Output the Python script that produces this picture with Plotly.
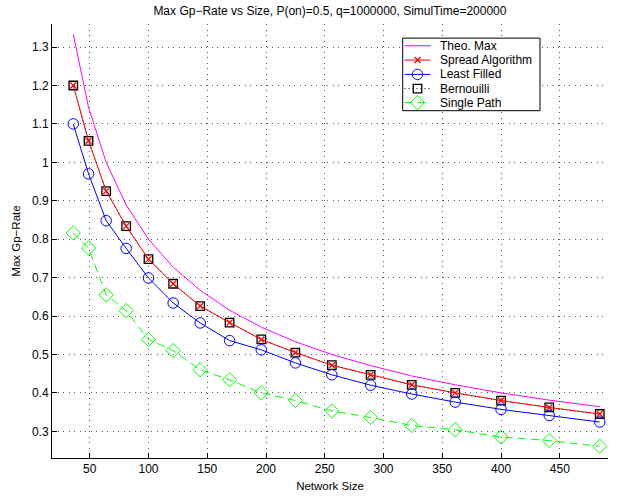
import plotly.graph_objects as go

# Network sizes (square grids) on the x axis
network_size = [36, 49, 64, 81, 100, 121, 144, 169, 196, 225, 256, 289, 324, 361, 400, 441, 484]

# Max Gp-Rate per strategy
theo_max = [1.333, 1.143, 1.000, 0.889, 0.800, 0.727, 0.667, 0.615, 0.571, 0.533,
            0.500, 0.471, 0.444, 0.421, 0.400, 0.381, 0.364]
spread_algorithm = [1.200, 1.056, 0.925, 0.834, 0.748, 0.684, 0.626, 0.583, 0.539, 0.505,
                    0.472, 0.447, 0.421, 0.400, 0.380, 0.362, 0.345]
least_filled = [1.100, 0.970, 0.848, 0.776, 0.699, 0.634, 0.582, 0.536, 0.512, 0.478,
                0.447, 0.420, 0.397, 0.376, 0.357, 0.341, 0.324]
bernouilli = [1.200, 1.056, 0.925, 0.834, 0.748, 0.684, 0.626, 0.583, 0.539, 0.505,
              0.472, 0.447, 0.421, 0.400, 0.380, 0.362, 0.345]
single_path = [0.816, 0.777, 0.655, 0.614, 0.539, 0.510, 0.460, 0.434, 0.400, 0.380,
               0.353, 0.336, 0.315, 0.304, 0.285, 0.276, 0.261]

series_names = ["Theo. Max", "Spread Algorithm", "Least Filled", "Bernouilli", "Single Path"]

x_ticks = [50, 100, 150, 200, 250, 300, 350, 400, 450]
y_ticks = [0.3, 0.4, 0.5, 0.6, 0.7, 0.8, 0.9, 1.0, 1.1, 1.2, 1.3]
y_tick_labels = ["0.3", "0.4", "0.5", "0.6", "0.7", "0.8", "0.9", "1", "1.1", "1.2", "1.3"]

FONT = "Liberation Sans, Arial, Helvetica, sans-serif"

# plot area in pixels
PLOT_L, PLOT_R, PLOT_T, PLOT_B = 52, 608, 24, 463
W, H = 619, 501

# line / marker styles per series
styles = {
    "Theo. Max": dict(mode="lines", line=dict(color="#FF00FF", width=1)),
    "Spread Algorithm": dict(mode="lines+markers", line=dict(color="#FF0000", width=1),
                             marker=dict(symbol="x-thin-open", size=6, color="#FF0000",
                                         line=dict(width=1.3, color="#FF0000"))),
    "Least Filled": dict(mode="lines+markers", line=dict(color="#0000FF", width=1),
                         marker=dict(symbol="circle-open", size=10.5, color="#0000FF",
                                     line=dict(width=1))),
    "Bernouilli": dict(mode="lines+markers", line=dict(color="black", width=1, dash="1px,3px"),
                       marker=dict(symbol="square-open", size=8.5, color="black",
                                   line=dict(width=1.3))),
    "Single Path": dict(mode="lines+markers", line=dict(color="#00FF00", width=1, dash="8px,5px"),
                        marker=dict(symbol="diamond-open", size=11, color="#00FF00",
                                    line=dict(width=1))),
}

values = {
    "Theo. Max": theo_max,
    "Spread Algorithm": spread_algorithm,
    "Least Filled": least_filled,
    "Bernouilli": bernouilli,
    "Single Path": single_path,
}

fig = go.Figure()

# draw order: the dotted Bernouilli line sits under the red Spread line
for name in ["Theo. Max", "Bernouilli", "Spread Algorithm", "Least Filled", "Single Path"]:
    fig.add_trace(go.Scatter(x=network_size, y=values[name], name=name,
                             showlegend=False, **styles[name]))

# Legend drawn on a pixel-coordinate overlay axis pair (above the data layer)
LEG_X0, LEG_X1, LEG_Y0, LEG_Y1 = 402.7, 540, 38.3, 111.7
row_y = [46, 60.5, 75, 89.3, 103.5]
key_x0, key_x1, text_x = 404.5, 430.5, 437.5

fig.add_trace(go.Scatter(
    x=[LEG_X0, LEG_X1, LEG_X1, LEG_X0, LEG_X0],
    y=[LEG_Y0, LEG_Y0, LEG_Y1, LEG_Y1, LEG_Y0],
    mode="lines", fill="toself", fillcolor="white",
    line=dict(color="black", width=1),
    xaxis="x2", yaxis="y2", showlegend=False, hoverinfo="skip"))

for name, ry in zip(series_names, row_y):
    st = styles[name]
    fig.add_trace(go.Scatter(x=[key_x0, key_x1], y=[ry, ry], mode="lines", line=st["line"],
                             xaxis="x2", yaxis="y2", showlegend=False, hoverinfo="skip"))
    if "marker" in st:
        fig.add_trace(go.Scatter(x=[(key_x0 + key_x1) / 2], y=[ry], mode="markers",
                                 marker=st["marker"], xaxis="x2", yaxis="y2",
                                 showlegend=False, hoverinfo="skip"))
    fig.add_annotation(x=text_x, y=ry, xref="x2", yref="y2", text=name, showarrow=False,
                       xanchor="left", yanchor="middle",
                       font=dict(family=FONT, size=12, color="black"))

axis_common = dict(
    showline=True, linecolor="black", linewidth=1, mirror=False,
    ticks="inside", ticklen=5, tickcolor="black", tickwidth=1,
    showgrid=True, gridcolor="rgba(0,0,0,0.65)", griddash="1px,4.5px", gridwidth=1,
    zeroline=False, tickfont=dict(family=FONT, size=12, color="black"),
)

fig.update_layout(
    width=W, height=H,
    margin=dict(l=PLOT_L, r=W - PLOT_R, t=PLOT_T, b=H - PLOT_B),
    paper_bgcolor="white", plot_bgcolor="white",
    font=dict(family=FONT, size=11, color="black"),
    title=dict(text="Max Gp\u2212Rate vs Size, P(on)=0.5, q=1000000, SimulTime=200000",
               x=0.533, xref="container", xanchor="center",
               y=0.978, yref="container", yanchor="middle",
               font=dict(family=FONT, size=12, color="black")),
    xaxis=dict(range=[17.9, 491], tickvals=x_ticks,
               title=dict(text="Network Size", standoff=6,
                          font=dict(family=FONT, size=11.5, color="black")),
               **axis_common),
    yaxis=dict(range=[0.2305, 1.36], tickvals=y_ticks, ticktext=y_tick_labels,
               title=dict(text="Max Gp\u2212Rate", standoff=8,
                          font=dict(family=FONT, size=11.5, color="black")),
               **axis_common),
    xaxis2=dict(overlaying="x", range=[PLOT_L, PLOT_R], visible=False, fixedrange=True),
    yaxis2=dict(overlaying="y", range=[PLOT_B, PLOT_T], visible=False, fixedrange=True),
    showlegend=False,
)

fig.write_html("out.html")
